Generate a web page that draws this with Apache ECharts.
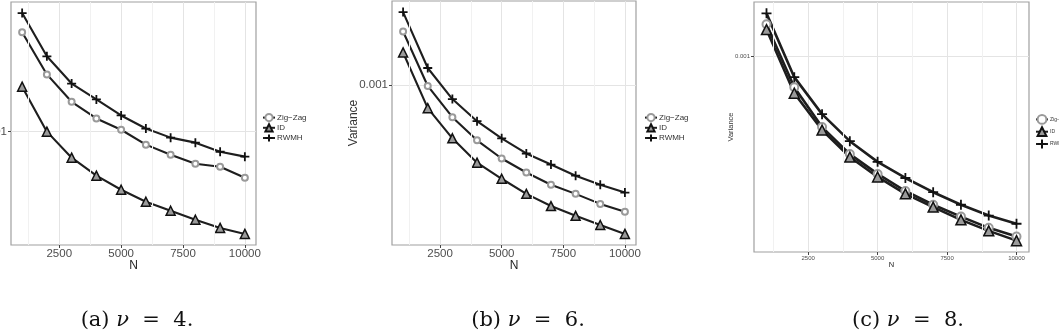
<!DOCTYPE html>
<html><head><meta charset="utf-8">
<script src="https://cdn.jsdelivr.net/npm/echarts@6/dist/echarts.min.js"></script>
<style>html,body{margin:0;padding:0;background:#fff}#c{width:1059px;height:336px}</style>
</head><body><div id="c"></div>
<script>
// ---- data ----
const N = [1000,2000,3000,4000,5000,6000,7000,8000,9000,10000];
const xTicks = [2500,5000,7500,10000];
const xMinor = [1250,3750,6250,8750];
const yTicks = [0.001];
const names = ['Zig\u2212Zag','ID','RWMH'];
const captions = ['4','6','8'];
const captionLetters = ['a','b','c'];

// (a) nu = 4
const zigA = [0.00477,0.00246,0.00160,0.00123,0.00103,0.000815,0.000695,0.000604,0.000575,0.000484];
const idA  = [0.00203,0.00100,0.000664,0.000500,0.000401,0.000332,0.000288,0.000250,0.000220,0.000200];
const rwA  = [0.00646,0.00327,0.00213,0.00166,0.00129,0.00105,0.000910,0.000841,0.000729,0.000675];
// (b) nu = 6
const zigB = [0.00197,0.000987,0.000664,0.000495,0.000393,0.000329,0.000282,0.000251,0.000221,0.000200];
const idB  = [0.00151,0.000745,0.000508,0.000373,0.000304,0.000251,0.000215,0.000190,0.000169,0.000151];
const rwB  = [0.00252,0.00124,0.000836,0.000631,0.000508,0.000419,0.000364,0.000316,0.000282,0.000255];
// (c) nu = 8
const zigC = [0.00142,0.000713,0.000461,0.000343,0.000276,0.000229,0.000197,0.000173,0.000153,0.000139];
const idC  = [0.00134,0.000668,0.000446,0.000332,0.000267,0.000222,0.000192,0.000167,0.000148,0.000133];
const rwC  = [0.00160,0.000796,0.000531,0.000395,0.000315,0.000264,0.000226,0.000197,0.000175,0.000160];

// ---- layout / style per panel ----
const panels = [
  {data:[zigA,idA,rwA], grid:{left:11,top:2,width:245,height:243}, fs:11.5, tfs:12, lblMargin:3, nameGap:15, yName:'', yNameGap:32,
   legend:{left:262,top:113,iw:12,ih:9,gap:1,fs:8}, lw:2.1, sz:{c:6,t:9,p:9}, cap:137},
  {data:[zigB,idB,rwB], grid:{left:392,top:1,width:244,height:244}, fs:11.5, tfs:12, lblMargin:3, nameGap:15, yName:'Variance', yNameGap:32,
   legend:{left:644,top:113,iw:12,ih:9,gap:1,fs:8}, lw:2.1, sz:{c:6,t:9,p:9}, cap:528},
  {data:[zigC,idC,rwC], grid:{left:754,top:2,width:275,height:250}, fs:6, tfs:7.5, lblMargin:3, nameGap:9, yName:'Variance', yNameGap:19,
   legend:{left:1035,top:114,iw:12,ih:11,gap:1.5,fs:5}, lw:2.6, sz:{c:8,t:10,p:10}, cap:908}
];

const plusPath = 'path://M5,0L5,10M0,5L10,5';
function logRange(arrs){
  const all = [].concat(...arrs);
  const lo = Math.log10(Math.min(...all)), hi = Math.log10(Math.max(...all));
  const e = (hi-lo)*0.05;
  return [Math.pow(10, lo-e), Math.pow(10, hi+e)];
}
const xr = [N[0] - (N[N.length-1]-N[0])*0.05, N[N.length-1] + (N[N.length-1]-N[0])*0.05];

const grids=[], xAxes=[], yAxes=[], series=[], legends=[], graphics=[];
panels.forEach((p,k)=>{
  grids.push(Object.assign({show:true, borderColor:'#a0a0a0', borderWidth:1.2, backgroundColor:'rgba(0,0,0,0)',
    containLabel:false, outerBoundsMode:'none'}, p.grid));
  xAxes.push({type:'value', gridIndex:k, min:xr[0], max:xr[1],
    name:'N', nameLocation:'middle', nameGap:p.nameGap, nameMoveOverlap:false,
    nameTextStyle:{fontSize:p.tfs, color:'#222', fontFamily:'Liberation Sans', verticalAlign:'top'},
    axisLine:{show:false},
    axisTick:{show:true, length:3, customValues:xTicks, lineStyle:{color:'#444', width:1}},
    axisLabel:{customValues:xTicks, fontSize:p.fs, color:'#4d4d4d', margin:p.lblMargin, fontFamily:'Liberation Sans', formatter:v=>String(v)},
    splitLine:{show:true, lineStyle:{color:'#e4e4e4', width:1}}
  });
  const yr = logRange(p.data);
  yAxes.push({type:'log', logBase:10, gridIndex:k, min:yr[0], max:yr[1],
    name:p.yName, nameLocation:'middle', nameGap:p.yNameGap, nameMoveOverlap:false,
    nameTextStyle:{fontSize:p.tfs, color:'#333', fontFamily:'Liberation Sans'},
    axisLine:{show:false},
    axisTick:{show:true, length:3, customValues:yTicks, lineStyle:{color:'#444', width:1}},
    axisLabel:{customValues:yTicks, fontSize:p.fs, color:'#4d4d4d', margin:p.lblMargin+1, fontFamily:'Liberation Sans', formatter:v=>String(+(+v).toPrecision(3))},
    splitLine:{show:true, lineStyle:{color:'#e4e4e4', width:1}}
  });
  // minor grid lines
  series.push({type:'line', name:'_minor'+k, xAxisIndex:k, yAxisIndex:k, data:[], silent:true, z:1,
    markLine:{silent:true, symbol:'none', label:{show:false}, animation:false,
      lineStyle:{color:'#f1f1f1', type:'solid', width:1}, data:xMinor.map(v=>({xAxis:v}))}});
  const styles = [
    {symbol:'emptyCircle', symbolSize:p.sz.c, itemStyle:{color:'#9a9a9a', borderWidth:1.2}},
    {symbol:'triangle', symbolSize:p.sz.t, itemStyle:{color:'#9a9a9a', borderColor:'#111', borderWidth:1.5}},
    {symbol:plusPath, symbolSize:p.sz.p, itemStyle:{color:'#111', borderColor:'#111', borderWidth:1.8}}
  ];
  p.data.forEach((arr,i)=>{
    series.push(Object.assign({type:'line', name:names[i], xAxisIndex:k, yAxisIndex:k, z:3, animation:false,
      showAllSymbol:true, lineStyle:{color:'#1e1e1e', width:p.lw},
      data:N.map((n,j)=>[n, arr[j]])}, styles[i]));
  });
  legends.push({orient:'vertical', left:p.legend.left, top:p.legend.top, itemWidth:p.legend.iw, itemHeight:p.legend.ih,
    itemGap:p.legend.gap, padding:0, selectedMode:false,
    textStyle:{fontSize:p.legend.fs, color:'#333', fontFamily:'Liberation Sans', padding:[0,0,0,-3]},
    data:names.slice()
  });
  graphics.push({type:'text', x:p.cap, y:321, style:{
    text:'('+captionLetters[k]+') {i|\u03bd}  =  '+captions[k]+'.', align:'center', verticalAlign:'middle',
    font:'21px "DejaVu Serif"', fill:'#111',
    rich:{i:{fontStyle:'italic', fontFamily:'DejaVu Serif', fontSize:21, fill:'#111'}}}});
});

const chart = echarts.init(document.getElementById('c'), null, {renderer:'canvas'});
chart.setOption({animation:false, backgroundColor:'#fff', grid:grids, xAxis:xAxes, yAxis:yAxes, series:series, legend:legends, graphic:graphics});
</script></body></html>
